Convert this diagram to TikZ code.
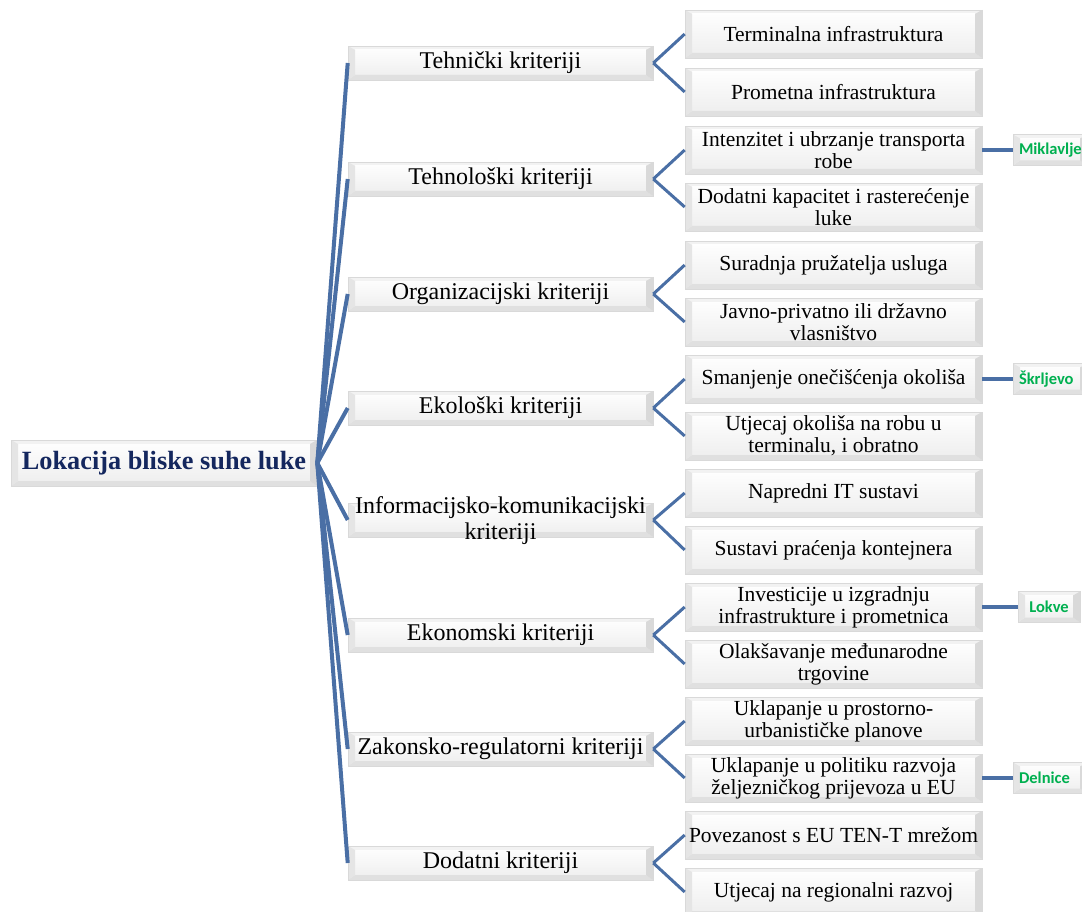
\documentclass[tikz,border=0pt]{standalone}
\usepackage{fontspec}
\setmainfont{Liberation Serif}
\newfontfamily\labfont{Carlito}
\definecolor{linkblue}{HTML}{4A6FA5}
\definecolor{rootblue}{HTML}{14275E}
\definecolor{labgreen}{HTML}{00B050}
\tikzset{
  bev/.style={draw=gray!30, line width=0.6pt, fill=gray!10, inner sep=1pt,
    path picture={
      \shade[top color=white, bottom color=gray!14]
        ([shift={(7pt,-4pt)}]path picture bounding box.north west) rectangle
        ([shift={(-7pt,5pt)}]path picture bounding box.south east);
      \fill[gray!24] (path picture bounding box.south west) -- (path picture bounding box.south east)
        -- ([shift={(-7pt,5pt)}]path picture bounding box.south east)
        -- ([shift={(7pt,5pt)}]path picture bounding box.south west) -- cycle;
      \fill[gray!30] (path picture bounding box.south east) -- (path picture bounding box.north east)
        -- ([shift={(-7pt,-4pt)}]path picture bounding box.north east)
        -- ([shift={(-7pt,5pt)}]path picture bounding box.south east) -- cycle;
      \fill[gray!20] (path picture bounding box.south west) -- (path picture bounding box.north west)
        -- ([shift={(7pt,-4pt)}]path picture bounding box.north west)
        -- ([shift={(7pt,5pt)}]path picture bounding box.south west) -- cycle;
    }},
  rootbox/.style={bev, minimum width=306, minimum height=46, font=\fontsize{26.3}{28}\selectfont\bfseries, text=rootblue},
  lfont/.style={font=\fontsize{24}{26}\selectfont, align=center},
  lone/.style={bev, lfont, minimum width=305, minimum height=34},
  ltwo/.style={bev, minimum width=297, minimum height=48, font=\fontsize{21.5}{22}\selectfont, align=center},
  tag/.style={bev, minimum width=74, minimum height=31, font=\labfont\fontsize{16.5}{18}\selectfont\bfseries, text=labgreen},
  rootlink/.style={draw=linkblue, line width=4pt},
  sublink/.style={draw=linkblue, line width=3pt},
  taglink/.style={draw=linkblue, line width=4.5pt},
}
\begin{document}
\begin{tikzpicture}[x=1pt, y=-1pt]
\useasboundingbox (0,0) rectangle (1082,912);
\node[rootbox] (root) at (164,463) {Lokacija bliske suhe luke};

\node[lone] (a) at (500.5,63) {Tehnički kriteriji};
\node[lone] (b) at (500.5,179) {Tehnološki kriteriji};
\node[lone] (c) at (500.5,294) {Organizacijski kriteriji};
\node[lone] (d) at (500.5,408) {Ekološki kriteriji};
\node[lone, label={[lfont, yshift=-1pt]center:Informacijsko-komunikacijski\\kriteriji}] (e) at (500.5,520) {};
\node[lone] (f) at (500.5,635) {Ekonomski kriteriji};
\node[lone] (g) at (500.5,749) {Zakonsko-regulatorni kriteriji};
\node[lone] (h) at (500.5,863) {Dodatni kriteriji};

\node[ltwo] (a1) at (833.5,34) {Terminalna infrastruktura};
\node[ltwo] (a2) at (833.5,92) {Prometna infrastruktura};
\node[ltwo] (b1) at (833.5,150) {Intenzitet i ubrzanje transporta\\robe};
\node[ltwo] (b2) at (833.5,207) {Dodatni kapacitet i rasterećenje\\luke};
\node[ltwo] (c1) at (833.5,265) {Suradnja pružatelja usluga};
\node[ltwo] (c2) at (833.5,322) {Javno-privatno ili državno\\vlasništvo};
\node[ltwo] (d1) at (833.5,379) {Smanjenje onečišćenja okoliša};
\node[ltwo] (d2) at (833.5,436) {Utjecaj okoliša na robu u\\terminalu, i obratno};
\node[ltwo] (e1) at (833.5,493) {Napredni IT sustavi};
\node[ltwo] (e2) at (833.5,550) {Sustavi praćenja kontejnera};
\node[ltwo] (f1) at (833.5,607) {Investicije u izgradnju\\infrastrukture i prometnica};
\node[ltwo] (f2) at (833.5,664) {Olakšavanje međunarodne\\trgovine};
\node[ltwo] (g1) at (833.5,721) {Uklapanje u prostorno-\\urbanističke planove};
\node[ltwo] (g2) at (833.5,778) {Uklapanje u politiku razvoja\\željezničkog prijevoza u EU};
\node[ltwo] (h1) at (833.5,835) {Povezanost s EU TEN-T mrežom};
\node[ltwo] (h2) at (833.5,892) {Utjecaj na regionalni razvoj};

\node[tag, text width=62, align=left] (t1) at (1050,150) {Miklavlje};
\node[tag, text width=62, align=left] (t2) at (1050,379) {Škrljevo};
\node[tag, minimum width=62] (t3) at (1049,607) {Lokve};
\node[tag, text width=62, align=left] (t4) at (1050,778) {Delnice};

\foreach \n in {a,b,c,d,e,f,g,h} {
  \draw[rootlink] (root.east) -- (\n.west);
  \draw[sublink] (\n.east) -- (\n1.west);
  \draw[sublink] (\n.east) -- (\n2.west);
}
\draw[taglink] (b1.east) -- (t1.west);
\draw[taglink] (d1.east) -- (t2.west);
\draw[taglink] (f1.east) -- (t3.west);
\draw[taglink] (g2.east) -- (t4.west);
\end{tikzpicture}
\end{document}
